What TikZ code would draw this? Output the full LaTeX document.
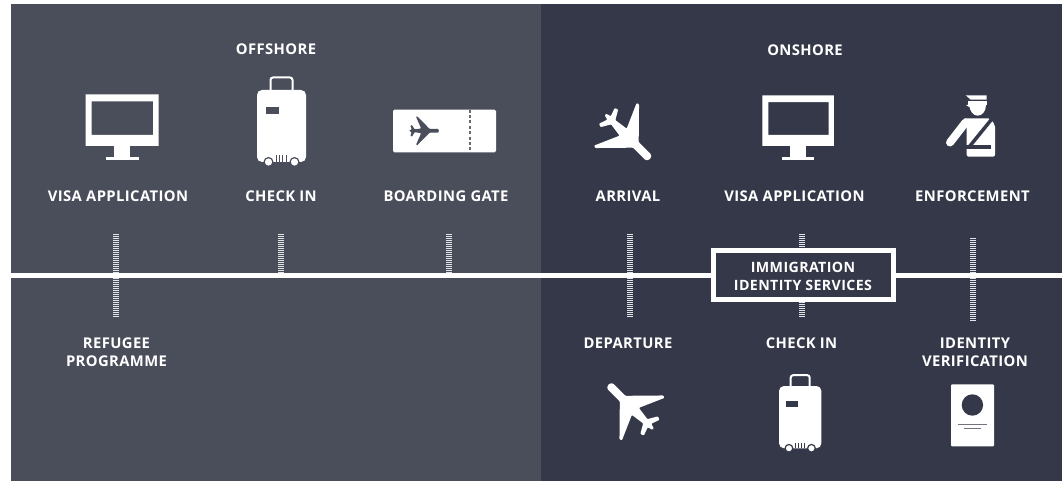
\documentclass[tikz,border=0pt]{standalone}
\usepackage{fontspec}
\setmainfont{Open Sans}[LetterSpace=2.7]
\definecolor{OffPanel}{HTML}{4A4E5B}
\definecolor{OnPanel}{HTML}{343848}
\definecolor{Tick}{HTML}{E4E5E8}
\tikzset{
  lbl/.style={text=white,font=\bfseries\fontsize{14.8}{18.4}\selectfont,align=center,inner sep=0pt},
  tickline/.style={Tick,line width=6pt,dash pattern=on 1pt off 1pt},
  pics/monitor/.style={code={
    \fill[white,even odd rule] (-36.5,0) rectangle (36.5,51.5) (-30.5,7) rectangle (31,40.5);
    \fill[white] (-8,51) rectangle (8,62.5);
    \fill[white] (-16.5,62.5) rectangle (16.5,66);
  }},
  pics/suitcase/.style={code={
    \draw[white,line width=2pt,rounded corners=2.5pt] (-11,1)--(-11,-12.5)--(11,-12.5)--(11,1);
    \fill[white,rounded corners=5pt] (-24.5,0) rectangle (24.5,72);
    \fill[#1] (-16,17) rectangle (-2.5,24);
    \foreach \x in {-5.5,-2.2,1.2,4.5}{\draw[#1,line width=.9pt] (\x,65.5)--(\x,72);}
    \foreach \x in {-13,13}{\fill[white,draw=#1,line width=1.2pt] (\x,72) circle (4.4pt);}
  }},
  pics/plane/.style={code={
    \fill[#1,rounded corners=.8pt] (0,0) ++(-4,-4) arc[start angle=-90,end angle=90,radius=4]
      --(-20,4)--(-46.5,31)--(-49,30)--(-38,5)--(-52,3)--(-57.5,12.5)--(-61,11)--(-58,2.5)--(-63,1)--(-63,-1)
      --(-58,-2.5)--(-61,-11)--(-57.5,-12.5)--(-52,-3)--(-38,-5)--(-49,-30)--(-46.5,-31)--(-20,-4)--cycle;
  }},
}
\begin{document}
\begin{tikzpicture}[x=1pt,y=-1pt]
\useasboundingbox (0,0) rectangle (1062,481);
\fill[white] (0,0) rectangle (1062,481);
\fill[OffPanel] (11,4) rectangle (541,481);
\fill[OnPanel] (541,4) rectangle (1062,481);
% ticks behind the line
\foreach \n/\x/\a/\b in {p/116/234/317,q/281/234/273,r/449/234/273,s/630/234/317,t/802/234/317,u/972.5/238/321}{
  \coordinate (\n a) at (\x,\a);
  \coordinate (\n b) at (\x,\b);
  \draw[tickline] (\n a)--(\n b);
}
% headings and labels
\node[lbl] (offshore) at (276,49) {OFFSHORE};
\node[lbl] (onshore) at (805,50) {ONSHORE};
\node[lbl] (visa1) at (118,196) {VISA APPLICATION};
\node[lbl] (check1) at (281,196) {CHECK IN};
\node[lbl] (gate) at (446,196) {BOARDING GATE};
\node[lbl] (arrival) at (628,196) {ARRIVAL};
\node[lbl] (visa2) at (794.5,196) {VISA APPLICATION};
\node[lbl] (enforce) at (972.5,196) {ENFORCEMENT};
\node[lbl] (refugee) at (116.5,352) {REFUGEE\\PROGRAMME};
\node[lbl] (departure) at (628,343) {DEPARTURE};
\node[lbl] (check2) at (801.5,343) {CHECK IN};
\node[lbl] (identity) at (975,352) {IDENTITY\\VERIFICATION};
% the line and its box
\node[draw=white,line width=5pt,minimum width=180pt,minimum height=49pt,fill=OnPanel] (immigration) at (803,275) {};
\node[lbl,font=\bfseries\fontsize{14.2}{18}\selectfont] (services) at (803,276.5) {IMMIGRATION\\IDENTITY SERVICES};
\coordinate (lineL) at (11,275.5);
\coordinate (lineR) at (1062,275.5);
\draw[white,line width=5pt] (lineL)--(lineL-|immigration.west);
\draw[white,line width=5pt] (lineR-|immigration.east)--(lineR);
% icons
\pic at (122.2,94.3) {monitor};
\pic[scale=.98] at (798.2,95.3) {monitor};
\pic at (281.5,90) {suitcase=OffPanel};
\pic[scale=.865] at (800.2,386) {suitcase=OnPanel};
\fill[white,rounded corners=1.5pt] (393,109.7) rectangle (496,152.3);
\draw[OffPanel!85!white,line width=1.4pt,dash pattern=on 3pt off 2.4pt] (470,109.7)--(470,152.3);
\pic[scale=.47] at (439,130.8) {plane=OffPanel};
\pic[rotate=-45] at (650,159) {plane=white};
\pic[rotate=135] at (608.5,384.5) {plane=white};
% officer
\fill[white] (965.7,95.3)--(986.7,95.3)--(986.7,99.7)--(970.7,99.7)--cycle;
\fill[white] (968,101.3)--(986.7,101.3)--(986.7,105)--(968,105)--cycle;
\fill[white] (966,105)--(970,105)--(970,107.5)--cycle;
\fill[white] (969.4,105) arc[start angle=180,end angle=360,x radius=8.3,y radius=-10.7]--cycle;
\draw[white,line width=8pt,line cap=round] (965.5,122.5)--(950,142.5);
\fill[white,rounded corners=2pt] (963.3,118.3)--(990,118.3)--(995,125)--(995,156.7)--(966.7,156.7)--(966.7,127)--cycle;
\draw[OnPanel,line width=3.5pt] (992,118.8)--(969.5,146.5);
\fill[OnPanel] (966,145.5) rectangle (990.5,149);
% passport
\fill[white,rounded corners=1pt] (951,384.3) rectangle (994,446.3);
\fill[OnPanel] (972.4,405) circle (10.7pt);
\draw[OnPanel!70!white] (957.8,424)--(987,424);
\draw[OnPanel!70!white] (964,427.7)--(980.5,427.7);
\end{tikzpicture}
\end{document}
